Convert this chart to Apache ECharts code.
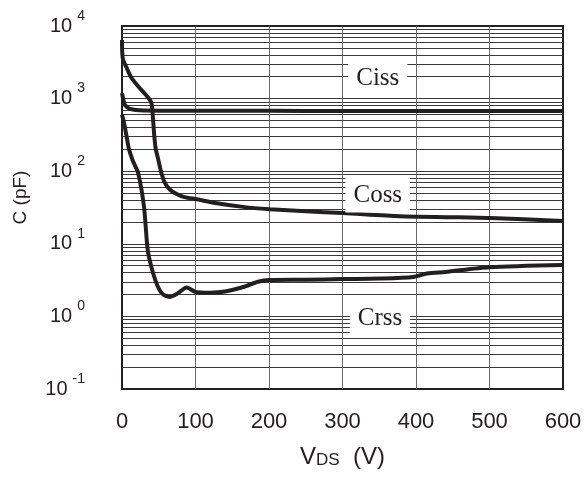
<!DOCTYPE html>
<html>
<head>
<meta charset="utf-8">
<style>html,body{margin:0;padding:0;background:#fff}#c{width:585px;height:478px}</style>
<script src="https://cdn.jsdelivr.net/npm/echarts@6/dist/echarts.min.js"></script>
</head>
<body>
<div id="c"></div>
<script>
// ---- data ----
const cissV = [0, 2, 4, 11, 29, 100, 200, 300, 400, 500, 600];
const cissC = [1190, 950, 817, 720, 685, 680, 678, 677, 676, 675, 674];

const cossV = [0, 1, 6, 13, 24, 35, 40, 42, 44, 46, 49, 53, 58, 65, 75, 85, 102, 127, 167, 201, 250, 301, 378, 450, 501, 600];
const cossC = [6400, 3600, 2700, 1920, 1400, 1050, 870, 560, 300, 200, 150, 100, 70, 56, 48, 44, 41, 36.5, 32, 30, 28, 26.5, 24, 23.3, 22.7, 20.6];

const crssV = [0, 2, 4, 6.5, 9.5, 15, 22, 30, 35, 41, 49, 56, 65, 75, 88, 100, 120, 140, 165, 185, 200, 250, 300, 350, 396, 415, 440, 500, 600];
const crssC = [600, 500, 400, 290, 200, 137, 94, 32, 8.2, 4.4, 2.54, 2.0, 1.85, 2.05, 2.5, 2.17, 2.12, 2.2, 2.54, 3.0, 3.17, 3.2, 3.27, 3.33, 3.5, 3.9, 4.1, 4.75, 5.1];

const xTicks = [0, 100, 200, 300, 400, 500, 600];
const minorMult = [1, 2, 3, 4, 5, 6, 7, 8, 9];

const curveLabels = [[348, 1925, 'Ciss'], [348, 47, 'Coss'], [351, 0.95, 'Crss']];

// ---- build ----
const hLines = [];
for (let d = -1; d <= 3; d++) {
  minorMult.forEach(k => {
    const v = k * Math.pow(10, d);
    if (d === -1 && k === 1) return;
    hLines.push({ yAxis: v });
  });
}
const vLines = xTicks.slice(1, -1).map(x => ({ xAxis: x }));

const pair = (xs, ys) => xs.map((x, i) => [x, ys[i]]);
const curveStyle = { color: '#231f20', width: 4 };

const chart = echarts.init(document.getElementById('c'), null, { renderer: 'canvas' });
chart.setOption({
  animation: false,
  backgroundColor: '#fff',
  grid: { left: 122, top: 26, right: 22, bottom: 89, show: true, borderColor: '#231f20', borderWidth: 2, backgroundColor: 'transparent' },
  xAxis: {
    type: 'value', min: 0, max: 600, interval: 100,
    axisLine: { show: false }, axisTick: { show: false },
    splitLine: { show: false },
    axisLabel: { color: '#231f20', fontSize: 22, fontFamily: 'Liberation Sans, Arial', margin: 22 },
    name: '{v|V}{d|DS}{v|  (V)}', nameLocation: 'middle', nameGap: 54,
    nameTextStyle: {
      rich: {
        v: { fontSize: 24, fontFamily: 'Liberation Sans, Arial', color: '#231f20', lineHeight: 26, verticalAlign: 'bottom' },
        d: { fontSize: 17, fontFamily: 'Liberation Sans, Arial', color: '#231f20', lineHeight: 19, verticalAlign: 'bottom' }
      }
    }
  },
  yAxis: {
    type: 'log', logBase: 10, min: 0.1, max: 10000,
    axisLine: { show: false }, axisTick: { show: false },
    splitLine: { show: false }, minorSplitLine: { show: false },
    axisLabel: {
      margin: 37,
      formatter: v => '{b|10}{s|' + Math.round(Math.log10(v)) + '}',
      rich: {
        b: { fontSize: 20, fontFamily: 'Liberation Sans, Arial', color: '#231f20', lineHeight: 34 },
        s: { fontSize: 14, fontFamily: 'Liberation Sans, Arial', color: '#231f20', lineHeight: 14, verticalAlign: 'top', padding: [0, 0, 0, 5] }
      }
    },
    name: 'C (pF)', nameLocation: 'middle', nameGap: 92,
    nameTextStyle: { fontSize: 19, fontFamily: 'Liberation Sans, Arial', color: '#231f20', padding: [0, 0, 0, 20] }
  },
  series: [
    {
      type: 'line', data: [], silent: true, z: 1,
      markLine: {
        silent: true, symbol: ['none', 'none'], animation: false, z: 1,
        label: { show: false },
        lineStyle: { type: 'solid', width: 1, color: '#3a3a3a' },
        data: hLines
      }
    },
    {
      type: 'line', data: [], silent: true, z: 1,
      markLine: {
        silent: true, symbol: ['none', 'none'], animation: false, z: 1,
        label: { show: false },
        lineStyle: { type: 'solid', width: 1, color: '#6a6a6a' },
        data: vLines
      }
    },
    { name: 'Ciss', type: 'line', data: pair(cissV, cissC), showSymbol: false, smooth: 0.25, lineStyle: curveStyle, z: 6 },
    { name: 'Coss', type: 'line', data: pair(cossV, cossC), showSymbol: false, smooth: 0.25, lineStyle: curveStyle, z: 6 },
    { name: 'Crss', type: 'line', data: pair(crssV, crssC), showSymbol: false, smooth: 0.25, lineStyle: curveStyle, z: 6 },
    {
      type: 'scatter', data: curveLabels, symbolSize: 0, z: 10, silent: true,
      itemStyle: { opacity: 1 },
      label: {
        show: true, position: 'inside', formatter: p => p.value[2],
        fontSize: 25, fontFamily: 'Liberation Serif, Times New Roman, serif', color: '#231f20',
        backgroundColor: '#fff', padding: [6, 8, 4, 8]
      }
    }
  ]
});
</script>
</body>
</html>
